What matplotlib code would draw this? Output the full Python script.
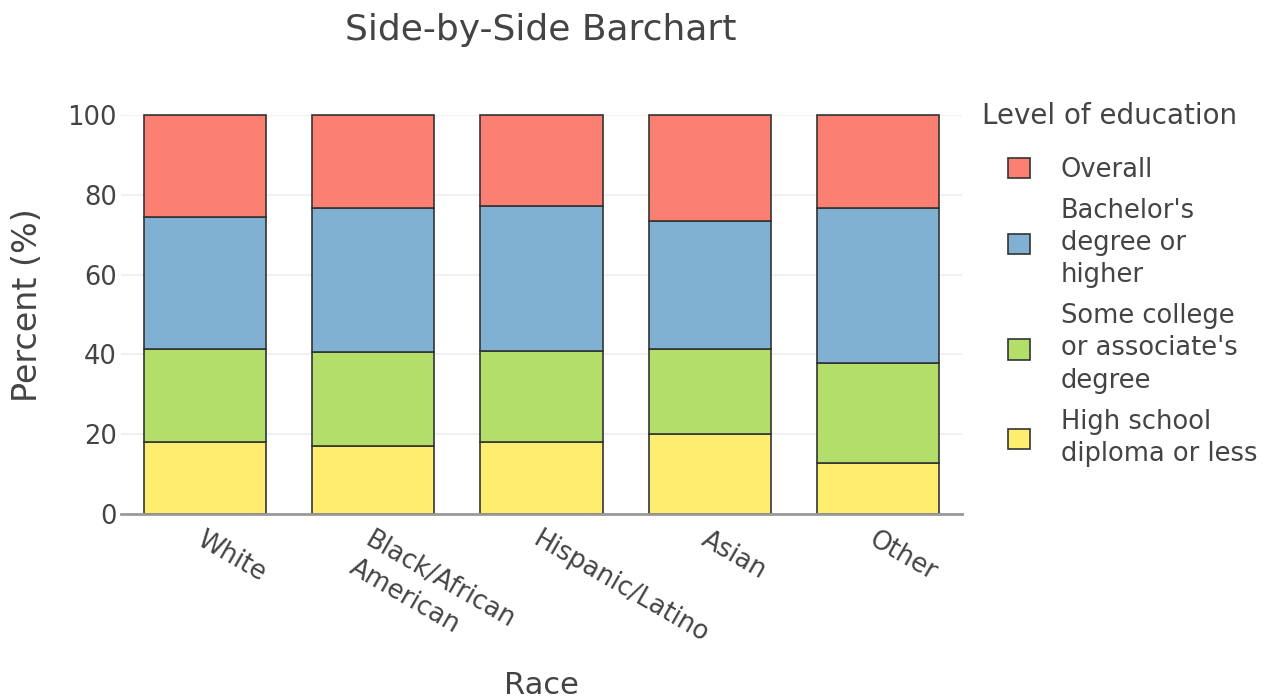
import matplotlib.pyplot as plt
import numpy as np

# data (percent of each race group)
races = ['White', 'Black/African\nAmerican', 'Hispanic/Latino', 'Asian', 'Other']
high_school = [18.1, 17.0, 18.1, 20.0, 12.9]
some_college = [23.2, 23.6, 22.8, 21.3, 24.9]
bachelors = [33.2, 36.2, 36.3, 32.1, 39.0]
overall = [25.5, 23.2, 22.8, 26.6, 23.2]

series = [
    ('High school\ndiploma or less', high_school, '#FFED6F'),
    ("Some college\nor associate's\ndegree", some_college, '#B3DE69'),
    ("Bachelor's\ndegree or\nhigher", bachelors, '#80B1D3'),
    ('Overall', overall, '#FB8072'),
]

text_col = '#444444'
plt.rcParams['font.family'] = ['DejaVu Sans']

fig = plt.figure(figsize=(12.72, 7.0), dpi=100)
ax = fig.add_axes([121 / 1272, 1 - 514 / 700, 841 / 1272, 399 / 700])

x = np.arange(len(races))
bottom = np.zeros(len(races))
handles = []
for name, vals, col in series:
    b = ax.bar(x, vals, bottom=bottom, width=0.726, color=col,
               edgecolor='#333333', linewidth=1.2, label=name, clip_on=False, zorder=3)
    handles.append(b)
    bottom += np.array(vals)

ax.set_xlim(-0.5, len(races) - 0.5)
ax.set_ylim(0, 100)
ax.set_yticks(range(0, 101, 20))
ax.grid(axis='y', color='#eeeeee', linewidth=1.2, zorder=0)
ax.set_axisbelow(True)
for s in ['top', 'right', 'left']:
    ax.spines[s].set_visible(False)
ax.spines['bottom'].set_color('#999999')
ax.spines['bottom'].set_linewidth(2)
ax.spines['bottom'].set_zorder(4)

ax.tick_params(axis='y', length=0, labelsize=18.5, labelcolor=text_col, pad=3)
ax.tick_params(axis='x', length=0, labelsize=18.5, labelcolor=text_col, pad=9)
ax.set_xticks(x)
ax.set_xticklabels(races, rotation=-30, ha='left', va='top',
                   rotation_mode='anchor', multialignment='left', linespacing=1.3)

# axis titles and chart title placed in figure pixels
fig.text(28 / 1272, 1 - 305 / 700, 'Percent (%)', fontsize=24, color=text_col,
         rotation=90, ha='center', va='center')
fig.text(541 / 1272, 1 - 685 / 700, 'Race', fontsize=22, color=text_col,
         ha='center', va='center')
fig.text(541 / 1272, 1 - 30 / 700, 'Side-by-Side Barchart', fontsize=26,
         color=text_col, ha='center', va='center')
fig.text(982 / 1272, 1 - 116 / 700, 'Level of education', fontsize=20,
         color=text_col, ha='left', va='center')

leg = ax.legend(handles[::-1], [h.get_label() for h in handles[::-1]],
                loc='upper left', bbox_to_anchor=(1008 / 1272, 1 - 157 / 700),
                bbox_transform=fig.transFigure, frameon=False,
                fontsize=18.5, handlelength=0.86, handleheight=0.86,
                handletextpad=1.2, labelspacing=0.57, borderaxespad=0,
                borderpad=0)
for t in leg.get_texts():
    t.set_color(text_col)
    t.set_linespacing(1.32)

fig.savefig('out.png', dpi=100)
